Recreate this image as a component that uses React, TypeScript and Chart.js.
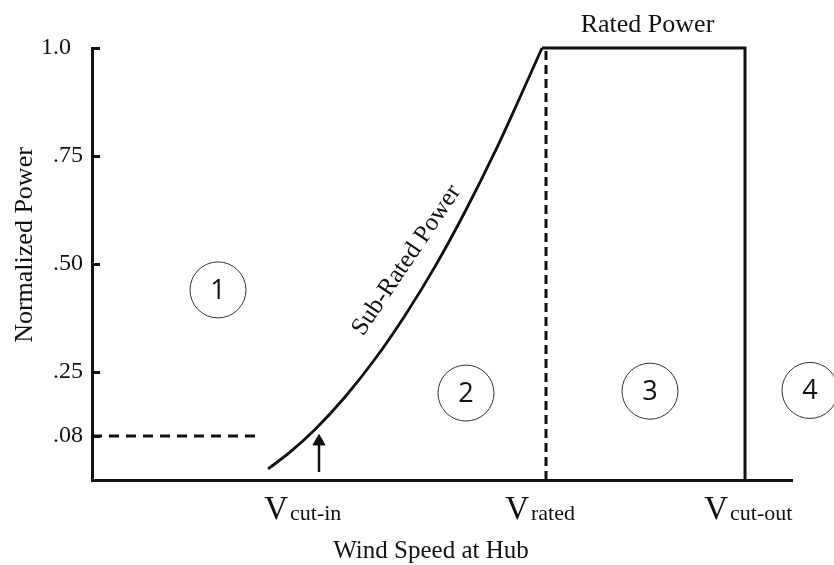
import React, { useEffect, useRef } from 'react';
import { Chart, registerables, LinearScale } from 'chart.js';

Chart.register(...registerables);

// ---------- data ----------
const X_MIN = 0;
const X_MAX = 14;

const V_CUT_IN = 4.54;
const V_RATED = 9.08;
const V_CUT_OUT = 13.06;
const X_MARK_VALUES = [V_CUT_IN, V_RATED, V_CUT_OUT];
const X_MARK_SUBSCRIPTS = ['cut-in', 'rated', 'cut-out'];

const Y_TICK_VALUES = [0.08, 0.25, 0.5, 0.75, 1.0];
const Y_TICK_LABELS = ['.08', '.25', '.50', '.75', '1.0  '];

const CUT_IN_POWER = 0.08;
const RATED_POWER = 1.0;

// sub-rated power curve
const CURVE_X = [3.52, 3.96, 4.46, 5.06, 5.66, 6.26, 6.86, 7.46, 8.06, 8.56, 9.0];
const CURVE_Y = [0.02, 0.0505, 0.097, 0.1835, 0.28, 0.381, 0.494, 0.621, 0.76, 0.886, 1.0];

// dashed .08 level
const CUT_IN_LEVEL_X = [0, 3.3];

// rated power plateau then cut-out drop
const RATED_X = [9.0, V_CUT_OUT, V_CUT_OUT];
const RATED_Y = [RATED_POWER, RATED_POWER, 0];

// arrow at cut-in
const ARROW_Y = [0.0145, 0.07];

// numbered regions
const REGION_LABELS = ['1', '2', '3', '4'];
const REGION_X = [2.52, 7.48, 11.16, 14.36];
const REGION_Y = [0.44, 0.194, 0.199, 0.201];

// annotation anchor for the curve label
const SUB_RATED_LABEL_AT = { x: 6.4, y: 0.5 };

// schematic (non-uniform) y axis knots: value -> linear position
const WARP_V = [0, 0.08, 0.25, 1];
const WARP_U = [0, 0.102, 0.25, 1];

// ---------- style ----------
const INK = '#111111';
const SERIF = '"Liberation Serif", "Times New Roman", serif';
const LABEL_NUDGE = [-14, 0, 0];

function interp(v: number, from: number[], to: number[]): number {
  const n = from.length;
  if (v <= from[1]) {
    const t = (v - from[0]) / (from[1] - from[0]);
    return to[0] + t * (to[1] - to[0]);
  }
  for (let i = 2; i < n; i++) {
    if (v <= from[i] || i === n - 1) {
      const t = (v - from[i - 1]) / (from[i] - from[i - 1]);
      return to[i - 1] + t * (to[i] - to[i - 1]);
    }
  }
  return v;
}

class SchematicScale extends LinearScale {
  static id = 'schematic';
  static defaults = {};
  getPixelForValue(value: any) {
    if (value === null || value === undefined || isNaN(value)) return NaN;
    return super.getPixelForValue(interp(value, WARP_V, WARP_U));
  }
  getValueForPixel(pixel: number) {
    return interp(super.getValueForPixel(pixel) as number, WARP_U, WARP_V);
  }
}
Chart.register(SchematicScale as any);

const annotate = {
  id: 'annotate',
  afterDraw(chart: any) {
    const { ctx, chartArea } = chart;
    const x = chart.scales.x;
    const y = chart.scales.y;
    ctx.save();

    // inward tick marks on y axis
    ctx.strokeStyle = INK;
    ctx.lineWidth = 3;
    y.ticks.forEach((t: any) => {
      const py = Math.round(y.getPixelForValue(t.value)) + 0.5;
      ctx.beginPath();
      ctx.moveTo(chartArea.left, py);
      ctx.lineTo(chartArea.left + 8, py);
      ctx.stroke();
    });

    ctx.fillStyle = INK;

    // x marks: V with subscript
    X_MARK_VALUES.forEach((v, i) => {
      const px = x.getPixelForValue(v) + LABEL_NUDGE[i];
      const base = chartArea.bottom + 39;
      ctx.textBaseline = 'alphabetic';
      ctx.font = `33px ${SERIF}`;
      ctx.textAlign = 'right';
      ctx.fillText('V', px - 17, base);
      ctx.font = `22px ${SERIF}`;
      ctx.textAlign = 'left';
      ctx.fillText(X_MARK_SUBSCRIPTS[i], px - 15, base + 1);
    });

    // axis titles
    ctx.font = `25px ${SERIF}`;
    ctx.textAlign = 'center';
    ctx.textBaseline = 'alphabetic';
    ctx.fillText('Wind Speed at Hub', 431, chartArea.bottom + 78);

    ctx.save();
    ctx.font = `26px ${SERIF}`;
    ctx.translate(32, (chartArea.top + chartArea.bottom) / 2 - 19);
    ctx.rotate(-Math.PI / 2);
    ctx.fillText('Normalized Power', 0, 0);
    ctx.restore();

    // Rated Power label
    ctx.font = `26px ${SERIF}`;
    const rx = (x.getPixelForValue(RATED_X[0]) + x.getPixelForValue(RATED_X[1])) / 2 + 4;
    ctx.fillText('Rated Power', rx, y.getPixelForValue(RATED_POWER) - 16);

    // Sub-Rated Power label along the curve
    ctx.save();
    ctx.font = `25px ${SERIF}`;
    ctx.translate(x.getPixelForValue(SUB_RATED_LABEL_AT.x), y.getPixelForValue(SUB_RATED_LABEL_AT.y));
    ctx.rotate((-56 * Math.PI) / 180);
    ctx.fillText('Sub-Rated Power', 0, 0);
    ctx.restore();

    // region numbers
    const meta = chart.getDatasetMeta(5);
    ctx.font = '27px "Open Sans", sans-serif';
    ctx.textAlign = 'center';
    ctx.textBaseline = 'middle';
    meta.data.forEach((pt: any, i: number) => {
      ctx.fillText(REGION_LABELS[i], pt.x, pt.y + 1);
    });

    ctx.restore();
  },
};

export default function App() {
  const ref = useRef<HTMLCanvasElement | null>(null);

  useEffect(() => {
    if (!ref.current) return;
    const lineBase = {
      showLine: true,
      borderColor: INK,
      borderWidth: 3,
      pointRadius: 0,
      fill: false,
      clip: false as any,
    };
    const chart = new Chart(ref.current, {
      type: 'scatter',
      data: {
        datasets: [
          {
            ...lineBase,
            label: 'Sub-Rated Power',
            data: CURVE_X.map((xv, i) => ({ x: xv, y: CURVE_Y[i] })),
            cubicInterpolationMode: 'monotone',
            borderWidth: 2.8,
          } as any,
          {
            ...lineBase,
            label: 'cut-in level',
            data: CUT_IN_LEVEL_X.map((xv) => ({ x: xv, y: CUT_IN_POWER })),
            borderDash: [10, 7],
          } as any,
          {
            ...lineBase,
            label: 'rated speed',
            data: [
              { x: V_RATED, y: 0 },
              { x: V_RATED, y: RATED_POWER },
            ],
            borderDash: [9, 5],
          } as any,
          {
            ...lineBase,
            label: 'Rated Power',
            data: RATED_X.map((xv, i) => ({ x: xv, y: RATED_Y[i] })),
            borderJoinStyle: 'miter',
          } as any,
          {
            ...lineBase,
            label: 'cut-in arrow',
            data: ARROW_Y.map((yv) => ({ x: V_CUT_IN, y: yv })),
            borderWidth: 2.5,
            pointRadius: [0, 7],
            pointStyle: 'triangle',
            pointBackgroundColor: INK,
            pointBorderColor: INK,
            pointBorderWidth: 1,
          } as any,
          {
            label: 'regions',
            data: REGION_X.map((xv, i) => ({ x: xv, y: REGION_Y[i] })),
            showLine: false,
            pointRadius: 28,
            pointStyle: 'circle',
            pointBorderWidth: 1,
            pointBorderColor: '#333333',
            pointBackgroundColor: 'rgba(0,0,0,0)',
            clip: false as any,
          } as any,
        ],
      },
      options: {
        responsive: false,
        animation: false,
        events: [],
        layout: { padding: { top: 48, right: 42, left: 0, bottom: 0 } },
        plugins: {
          legend: { display: false },
          title: { display: false },
          tooltip: { enabled: false },
        },
        scales: {
          x: {
            type: 'linear',
            min: X_MIN,
            max: X_MAX,
            grid: { display: false, drawTicks: false },
            ticks: { display: false },
            border: { display: true, width: 3, color: INK },
            afterFit: (s: any) => {
              s.height = 85;
            },
          },
          y: {
            type: 'schematic' as any,
            min: 0,
            max: 1,
            grid: { display: false, drawTicks: false },
            border: { display: true, width: 3, color: INK },
            afterBuildTicks: (s: any) => {
              s.ticks = Y_TICK_VALUES.map((v) => ({ value: v }));
            },
            ticks: {
              autoSkip: false,
              padding: 9,
              color: INK,
              font: { family: SERIF, size: 24 },
              callback: (v: any) => {
                const i = Y_TICK_VALUES.indexOf(v);
                return i >= 0 ? Y_TICK_LABELS[i] : '';
              },
            },
            afterFit: (s: any) => {
              s.width = 92;
            },
          } as any,
        },
      },
      plugins: [annotate],
    } as any);
    return () => chart.destroy();
  }, []);

  return (
    <div style={{ position: 'absolute', left: 0, top: 0, width: 834, height: 565, background: '#fff' }}>
      <canvas ref={ref} width={834} height={565} style={{ display: 'block' }} />
    </div>
  );
}
